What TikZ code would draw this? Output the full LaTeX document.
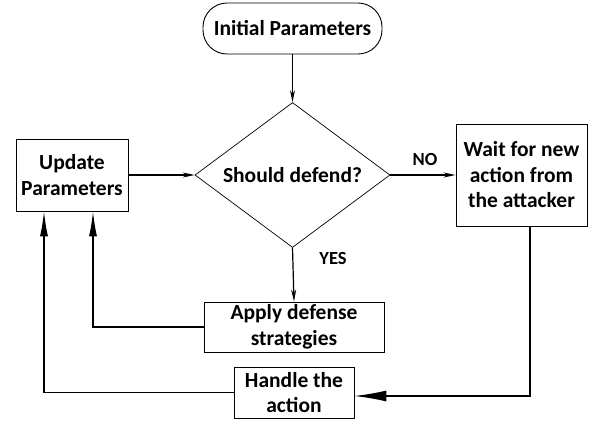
\documentclass[tikz,border=0pt]{standalone}
\usepackage{fontspec}
\setmainfont{Carlito}
\usetikzlibrary{shapes.geometric,arrows.meta,calc}
\begin{document}
\begin{tikzpicture}[x=1pt,y=-1pt,
  every node/.style={font=\fontsize{21.5}{25.5}\selectfont\bfseries},
  box/.style={draw,line width=0.9pt,align=center,inner sep=0pt},
  conn/.style={line width=1.2pt},
  small/.style={-{Stealth[length=12pt,width=5pt]}},
  big/.style={-{Latex[length=25pt,width=8pt]}},
  lbl/.style={font=\fontsize{18.5}{20}\selectfont\bfseries}]
\useasboundingbox (0,0) rectangle (595,424);
\node[box,rounded corners=24pt,minimum width=179pt,minimum height=51pt] (init) at (292.5,28.5) {Initial Parameters};
\node[draw,line width=0.7pt,shape=diamond,aspect=1.345,minimum width=195pt,minimum height=145pt,inner sep=0pt] (dia) at (292.5,175) {Should defend?};
\node[box,minimum width=112pt,minimum height=72pt] (upd) at (72,175) {Update\\Parameters};
\node[box,minimum width=131pt,minimum height=102pt] (wait) at (521.5,175) {Wait for new\\action from\\the attacker};
\node[box,minimum width=180pt,minimum height=50pt] (apply) at (294,327) {Apply defense\\strategies};
\node[box,minimum width=120pt,minimum height=51pt] (hand) at (294,392.5) {Handle the\\action};
\node[lbl] (no) at (425,159) {NO};
\node[lbl] (yes) at (333,258) {YES};
\draw[conn,small] (init.south) -- (dia.north);
\draw[conn,small] (upd.east) -- (dia.west);
\draw[conn,small] (dia.east) -- (wait.west);
\draw[conn,small] (dia.south) -- (apply.north);
\draw[conn,big] (apply.west) -| ([xshift=21pt]upd.south);
\draw[conn,big] (hand.west) -| ([xshift=-28pt]upd.south);
\draw[conn,-{Latex[length=32pt,width=11pt]}] ([xshift=8.5pt]wait.south) |- ([yshift=-3.5pt]hand.east);
\end{tikzpicture}
\end{document}
